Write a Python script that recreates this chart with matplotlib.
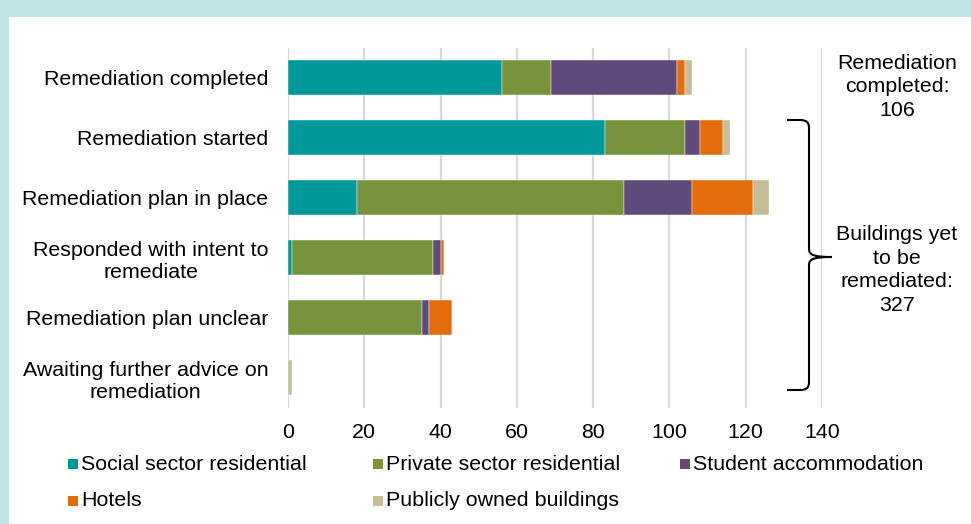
import matplotlib
matplotlib.use('Agg')
import matplotlib.pyplot as plt
from matplotlib.patches import Rectangle, PathPatch
from matplotlib.path import Path
import numpy as np

plt.rcParams['font.family'] = ['Liberation Sans', 'DejaVu Sans']

#####################################################
# data
#####################################################
categories = ['Remediation completed', 'Remediation started', 'Remediation plan in place',
              'Responded with intent to\nremediate', 'Remediation plan unclear',
              'Awaiting further advice on\nremediation']
series_names = ['Social sector residential', 'Private sector residential', 'Student accommodation',
                'Hotels', 'Publicly owned buildings']
social = [56, 83, 18, 1, 0, 0]
private = [13, 21, 70, 37, 35, 0]
student = [33, 4, 18, 2, 2, 0]
hotels = [2, 6, 16, 1, 6, 0]
public = [2, 2, 4, 0, 0, 1]
colors = ['#009999', '#77933C', '#604A7B', '#E46C0A', '#C4BD97']
xticks = [0, 20, 40, 60, 80, 100, 120, 140]
note_completed = 'Remediation\ncompleted:\n106'
note_yet = 'Buildings yet\nto be\nremediated:\n327'

FS = 15.4
W, H = 971, 524
fig = plt.figure(figsize=(W / 100, H / 100), dpi=100)
fig.patch.set_facecolor('#BFE4E3')
# white panel inside the teal frame
fig.patches.append(Rectangle((9 / W, 0), 1 - 9 / W, 1 - 17 / H, transform=fig.transFigure,
                             facecolor='white', edgecolor='none', zorder=-1))

ax = fig.add_axes([288 / W, 1 - 407.5 / H, (822 - 288) / W, (407.5 - 47.5) / H])
ax.set_zorder(2)
ax.set_facecolor('none')

y = np.arange(len(categories))
left = np.zeros(len(categories))
for vals, c in zip([social, private, student, hotels, public], colors):
    ax.barh(y, vals, left=left, height=0.58, color=c, edgecolor='white', linewidth=0.3, zorder=3)
    left += np.array(vals)

ax.set_xlim(0, 140)
ax.set_ylim(len(categories) - 0.5, -0.5)
ax.set_xticks(xticks)
ax.set_yticks(y)
ax.set_yticklabels(categories, fontsize=FS, linespacing=1.22)
ax.tick_params(axis='x', length=0, pad=11, labelsize=FS)
ax.tick_params(axis='y', length=0, pad=14)
for lab in ax.get_yticklabels():
    lab.set_horizontalalignment('right')
    lab.set_multialignment('center')
ax.grid(axis='x', color='#D9D9D9', linewidth=1.6, zorder=0)
for s in ax.spines.values():
    s.set_visible(False)


def fx(px):
    return px / W


def fy(py):
    return 1 - py / H


# curly brace around the rows still to be remediated
verts = [(787, 120), (800, 120), (806, 120), (809, 122), (809, 128), (809, 249),
         (809, 255), (814, 257), (832, 257), (814, 257), (809, 259), (809, 265),
         (809, 382), (809, 388), (806, 390), (800, 390), (787, 390)]
codes = [Path.MOVETO, Path.LINETO, Path.CURVE4, Path.CURVE4, Path.CURVE4, Path.LINETO,
         Path.CURVE4, Path.CURVE4, Path.CURVE4, Path.CURVE4, Path.CURVE4, Path.CURVE4,
         Path.LINETO, Path.CURVE4, Path.CURVE4, Path.CURVE4, Path.LINETO]
brace = Path([(fx(a), fy(b)) for a, b in verts], codes)
fig.patches.append(PathPatch(brace, transform=fig.transFigure, facecolor='none',
                             edgecolor='black', linewidth=1.5, zorder=5))

fig.text(fx(897), fy(87), note_completed, ha='center', va='center', fontsize=FS,
         linespacing=1.3, zorder=6)
fig.text(fx(897), fy(270), note_yet, ha='center', va='center', fontsize=FS,
         linespacing=1.3, zorder=6)

# legend, laid out by hand: 3 columns, 2 rows
leg_x = [68, 373, 680]
leg_y = [464, 501]
for i, (name, c) in enumerate(zip(series_names, colors)):
    px = leg_x[i % 3]
    py = leg_y[i // 3]
    fig.patches.append(Rectangle((fx(px), fy(py + 5)), 10 / W, 10 / H, transform=fig.transFigure,
                                 facecolor=c, edgecolor='none'))
    fig.text(fx(px + 13), fy(py), name, ha='left', va='center', fontsize=FS)

fig.savefig('out.png', dpi=100, facecolor=fig.get_facecolor())
